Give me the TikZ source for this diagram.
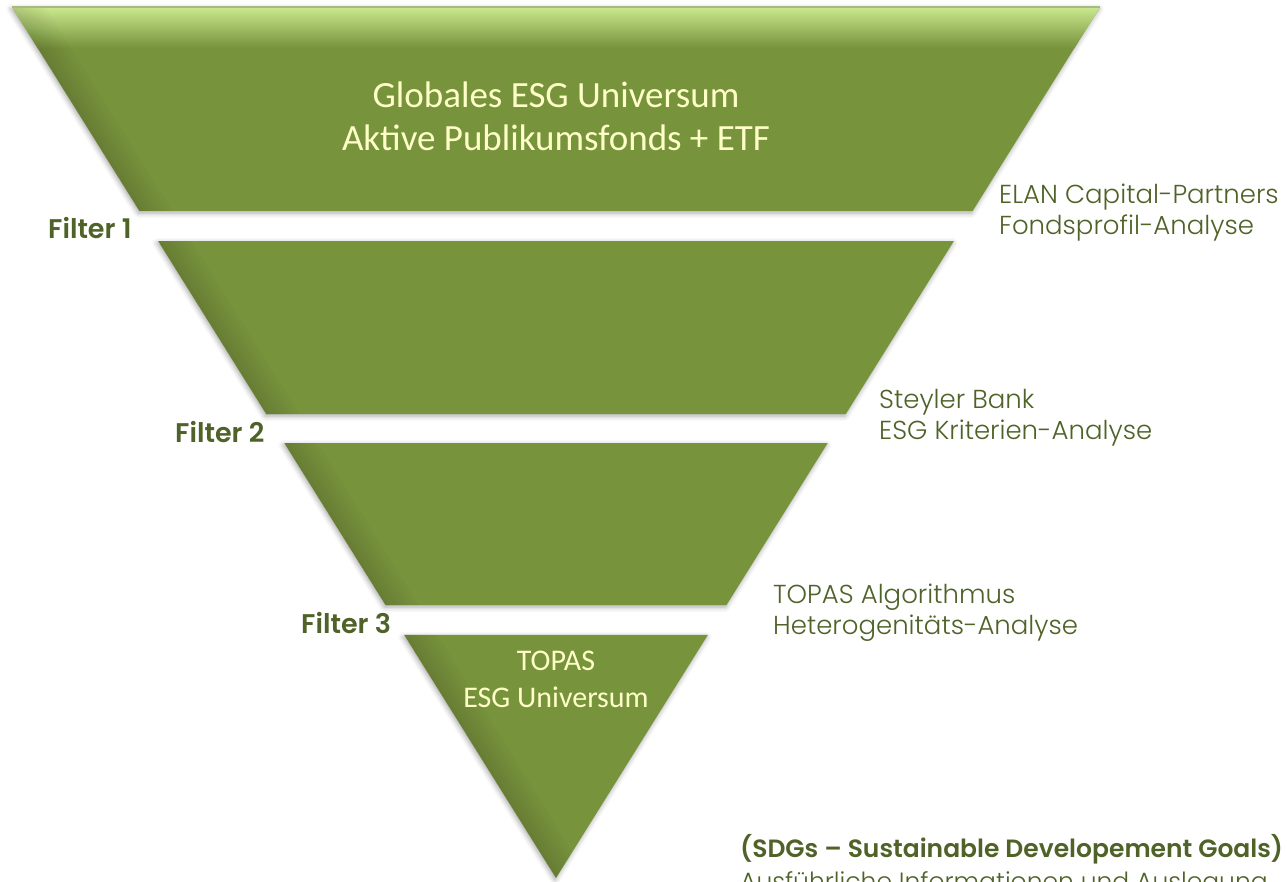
\documentclass[tikz,border=0pt]{standalone}
\usepackage{fontspec}
\setmainfont{Carlito}
\usetikzlibrary{calc,shadows.blur}

\definecolor{olivefill}{HTML}{77933C}
\definecolor{olivetext}{HTML}{4F6228}
\definecolor{creamtext}{HTML}{FFFFC8}
\definecolor{olivelight}{HTML}{C8E68C}
\definecolor{oliverim}{HTML}{A9B884}

% geometric sans for the side captions
\newfontfamily{\gothic}{Poppins}[UprightFont=* Light]

\tikzset{
  funnel/.style={fill=olivefill, blur shadow={shadow xshift=-1pt, shadow yshift=-2pt, shadow blur radius=5pt, shadow opacity=35}},
  stagetext/.style={text=creamtext, align=center, anchor=base, inner sep=0pt},
  filtertext/.style={text=olivetext, anchor=base west, inner sep=0pt, font=\gothic\bfseries\fontsize{27}{29}\selectfont},
  sidetext/.style={text=olivetext, anchor=base west, align=left, inner sep=0pt, font=\gothic\fontsize{26}{31}\selectfont},
}

\begin{document}
\begin{tikzpicture}[x=1pt, y=-1pt]
  \useasboundingbox (0,0) rectangle (1287,881);

  % corners of the funnel
  \coordinate (A) at (12,7);
  \coordinate (B) at (1100,7);
  \coordinate (C) at (556,878);

  % four slices, separated by white bands
  \foreach \ta/\tb [count=\i] in {0/0.2342, 0.2687/0.4673, 0.5006/0.6866, 0.7210/1}{
    \path[funnel] ($(A)!\ta!(C)$) -- ($(A)!\tb!(C)$) -- ($(B)!\tb!(C)$) -- ($(B)!\ta!(C)$) -- cycle;
    \begin{scope}
      \clip ($(A)!\ta!(C)$) -- ($(A)!\tb!(C)$) -- ($(B)!\tb!(C)$) -- ($(B)!\ta!(C)$) -- cycle;
      \ifnum\i=1
        \shade[top color=olivelight, bottom color=olivefill] (0,8) rectangle (1287,48);
      \fi
      % darker bevel along the left side
      \foreach \w in {8,16,...,56}
        \draw[black, opacity=0.014, line width=\w pt] (A) -- (C);
    \end{scope}
  }
  \draw[oliverim, line width=1.5pt] (A) -- (B);

  % texts inside the funnel (anchored on the last line)
  \node[stagetext, font=\fontsize{37}{43}\selectfont] (universe) at (556,150) {Globales ESG Universum\\Aktive Publikumsfonds + ETF};
  \node[stagetext, font=\fontsize{30}{37}\selectfont] (topas) at (556,707) {TOPAS\\ESG Universum};

  % filter labels
  \node[filtertext] (filter1) at (48,238) {Filter 1};
  \node[filtertext] (filter2) at (175,442) {Filter 2};
  \node[filtertext] (filter3) at (301,633) {Filter 3};

  % who filters
  \node[sidetext] (elan) at (999,234) {ELAN Capital-Partners\\Fondsprofil-Analyse};
  \node[sidetext] (steyler) at (879,439) {Steyler Bank\\ESG Kriterien-Analyse};
  \node[sidetext] (algo) at (773,634) {TOPAS Algorithmus\\Heterogenitäts-Analyse};

  \node[sidetext, font=\gothic\fontsize{25}{33}\selectfont] (sdg) at (740,890) {\textbf{(SDGs – Sustainable Developement Goals)}\\Ausführliche Informationen und Auslegung};
\end{tikzpicture}
\end{document}
